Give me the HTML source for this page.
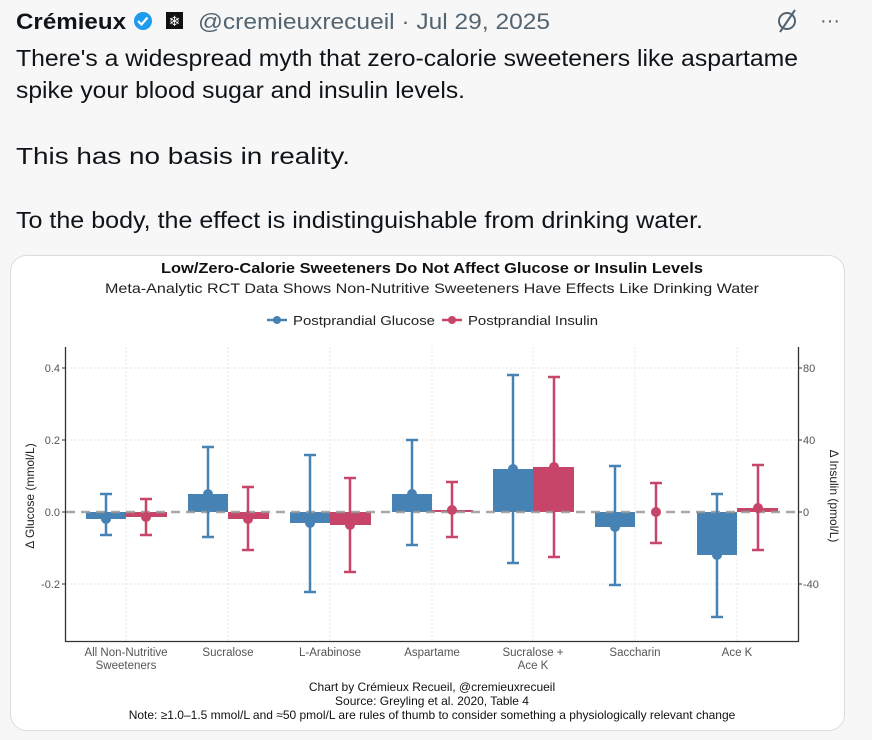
<!DOCTYPE html>
<html><head><meta charset="utf-8"><style>
html,body{margin:0;padding:0;background:#f7f7f7;}
body{width:872px;height:740px;overflow:hidden;position:relative;font-family:"Liberation Sans",sans-serif;}
svg{position:absolute;left:0;top:0}
</style></head><body>
<svg width="872" height="740" viewBox="0 0 872 740" xmlns="http://www.w3.org/2000/svg" font-family="Liberation Sans, sans-serif">
<rect width="872" height="740" fill="#f7f7f7"/>
<!-- header -->
<text x="16" y="29" font-size="22" font-weight="bold" fill="#0f1419" textLength="110" lengthAdjust="spacingAndGlyphs">Crémieux</text>
<circle cx="143" cy="21" r="9" fill="#1d9bf0"/>
<path d="M138 21l3.5 3.5 6-7" stroke="#fff" stroke-width="2.2" fill="none"/>
<rect x="166" y="12" width="17" height="17" fill="#111"/>
<text x="174.5" y="26" font-size="14" fill="#fff" text-anchor="middle">❄</text>
<text x="198" y="29" font-size="22" fill="#536471" textLength="352" lengthAdjust="spacingAndGlyphs">@cremieuxrecueil · Jul 29, 2025</text>
<circle cx="787" cy="21" r="8" fill="none" stroke="#536471" stroke-width="2"/>
<line x1="780" y1="32" x2="795" y2="10" stroke="#536471" stroke-width="2"/>
<text x="830" y="27" font-size="20" fill="#536471" text-anchor="middle">···</text>
<g font-size="23" fill="#0f1419">
<text x="16" y="66" textLength="782" lengthAdjust="spacingAndGlyphs">There's a widespread myth that zero-calorie sweeteners like aspartame</text>
<text x="16" y="98" textLength="449" lengthAdjust="spacingAndGlyphs">spike your blood sugar and insulin levels.</text>
<text x="16" y="164" textLength="334" lengthAdjust="spacingAndGlyphs">This has no basis in reality.</text>
<text x="16" y="228" textLength="687" lengthAdjust="spacingAndGlyphs">To the body, the effect is indistinguishable from drinking water.</text>
</g>
<!-- card -->
<rect x="10.5" y="255.5" width="834" height="475" rx="16" fill="#fff" stroke="#dcdcdc"/>
<text x="432" y="273" font-size="15" font-weight="bold" fill="#111" text-anchor="middle" textLength="542" lengthAdjust="spacingAndGlyphs">Low/Zero-Calorie Sweeteners Do Not Affect Glucose or Insulin Levels</text>
<text x="432" y="293" font-size="14" fill="#222" text-anchor="middle" textLength="654" lengthAdjust="spacingAndGlyphs">Meta-Analytic RCT Data Shows Non-Nutritive Sweeteners Have Effects Like Drinking Water</text>
<line x1="267" y1="320" x2="287" y2="320" stroke="#4682b4" stroke-width="2.5"/><circle cx="277" cy="320" r="4" fill="#4682b4"/>
<text x="293" y="325" font-size="13" fill="#222" textLength="142" lengthAdjust="spacingAndGlyphs">Postprandial Glucose</text>
<line x1="442" y1="320" x2="462" y2="320" stroke="#c8456a" stroke-width="2.5"/><circle cx="452" cy="320" r="4" fill="#c8456a"/>
<text x="468" y="325" font-size="13" fill="#222" textLength="130" lengthAdjust="spacingAndGlyphs">Postprandial Insulin</text>
<!-- grid -->
<g stroke="#e6e6e6" stroke-width="1" stroke-dasharray="2,2">
<line x1="66" y1="368" x2="797" y2="368"/><line x1="66" y1="440" x2="797" y2="440"/><line x1="66" y1="584" x2="797" y2="584"/>
<line x1="126" y1="347" x2="126" y2="641"/><line x1="228" y1="347" x2="228" y2="641"/><line x1="330" y1="347" x2="330" y2="641"/><line x1="432" y1="347" x2="432" y2="641"/><line x1="533" y1="347" x2="533" y2="641"/><line x1="635" y1="347" x2="635" y2="641"/><line x1="737" y1="347" x2="737" y2="641"/>
</g>
<!-- bars -->
<g fill="#4682b4">
<rect x="86" y="512" width="40" height="7"/>
<rect x="188" y="494" width="40" height="18"/>
<rect x="290" y="512" width="40" height="11"/>
<rect x="392" y="494" width="40" height="18"/>
<rect x="493" y="469" width="40" height="43"/>
<rect x="595" y="512" width="40" height="15"/>
<rect x="697" y="512" width="40" height="43"/>
</g>
<g fill="#c8456a">
<rect x="126" y="512" width="41" height="5"/>
<rect x="228" y="512" width="41" height="7"/>
<rect x="330" y="512" width="41" height="13"/>
<rect x="432" y="510" width="41" height="2"/>
<rect x="533" y="467" width="41" height="45"/>
<rect x="737" y="508" width="41" height="4"/>
</g>
<line x1="66" y1="512" x2="797" y2="512" stroke="#9a9a9a" stroke-width="2.5" stroke-dasharray="9,6" opacity="0.85"/>
<!-- error bars -->
<g stroke="#4682b4" stroke-width="2.5" fill="#4682b4">
<path d="M106 494V535M100 494H112M100 535H112"/><circle cx="106" cy="519" r="5" stroke="none"/>
<path d="M208 447V537M202 447H214M202 537H214"/><circle cx="208" cy="494" r="5" stroke="none"/>
<path d="M310 455V592M304 455H316M304 592H316"/><circle cx="310" cy="523" r="5" stroke="none"/>
<path d="M412 440V545M406 440H418M406 545H418"/><circle cx="412" cy="494" r="5" stroke="none"/>
<path d="M513 375V563M507 375H519M507 563H519"/><circle cx="513" cy="469" r="5" stroke="none"/>
<path d="M615 466V585M609 466H621M609 585H621"/><circle cx="615" cy="527" r="5" stroke="none"/>
<path d="M717 494V617M711 494H723M711 617H723"/><circle cx="717" cy="555" r="5" stroke="none"/>
</g>
<g stroke="#c8456a" stroke-width="2.5" fill="#c8456a">
<path d="M146 499V535M140 499H152M140 535H152"/><circle cx="146" cy="517" r="5" stroke="none"/>
<path d="M248 487V550M242 487H254M242 550H254"/><circle cx="248" cy="519" r="5" stroke="none"/>
<path d="M350 478V572M344 478H356M344 572H356"/><circle cx="350" cy="525" r="5" stroke="none"/>
<path d="M452 482V537M446 482H458M446 537H458"/><circle cx="452" cy="510" r="5" stroke="none"/>
<path d="M554 377V557M548 377H560M548 557H560"/><circle cx="554" cy="467" r="5" stroke="none"/>
<path d="M656 483V543M650 483H662M650 543H662"/><circle cx="656" cy="512" r="5" stroke="none"/>
<path d="M758 465V550M752 465H764M752 550H764"/><circle cx="758" cy="508" r="5" stroke="none"/>
</g>
<!-- axes -->
<path d="M65.5 347V641.5H798.5V347" fill="none" stroke="#333" stroke-width="1.3"/>
<g stroke="#333"><line x1="62" y1="368" x2="65" y2="368"/><line x1="62" y1="440" x2="65" y2="440"/><line x1="62" y1="512" x2="65" y2="512"/><line x1="62" y1="584" x2="65" y2="584"/>
<line x1="798" y1="368" x2="802" y2="368"/><line x1="798" y1="440" x2="802" y2="440"/><line x1="798" y1="512" x2="802" y2="512"/><line x1="798" y1="584" x2="802" y2="584"/></g>
<g font-size="11" fill="#555" text-anchor="end">
<text x="60" y="372">0.4</text><text x="60" y="444">0.2</text><text x="60" y="516">0.0</text><text x="60" y="588">-0.2</text></g>
<g font-size="11" fill="#555">
<text x="803" y="372">80</text><text x="803" y="444">40</text><text x="803" y="516">0</text><text x="803" y="588">-40</text></g>
<text transform="translate(34,496) rotate(-90)" font-size="12" fill="#222" text-anchor="middle">Δ Glucose (mmol/L)</text>
<text transform="translate(830,496) rotate(90)" font-size="12" fill="#222" text-anchor="middle">Δ Insulin (pmol/L)</text>
<g font-size="11.5" fill="#555" text-anchor="middle">
<text x="126" y="656">All Non-Nutritive</text><text x="126" y="669">Sweeteners</text>
<text x="228" y="656">Sucralose</text><text x="330" y="656">L-Arabinose</text><text x="432" y="656">Aspartame</text>
<text x="533" y="656">Sucralose +</text><text x="533" y="669">Ace K</text>
<text x="635" y="656">Saccharin</text><text x="737" y="656">Ace K</text></g>
<g font-size="12" fill="#111" text-anchor="middle">
<text x="432" y="691">Chart by Crémieux Recueil, @cremieuxrecueil</text>
<text x="432" y="705">Source: Greyling et al. 2020, Table 4</text>
<text x="432" y="719">Note: ≥1.0–1.5 mmol/L and ≈50 pmol/L are rules of thumb to consider something a physiologically relevant change</text></g>
</svg>
</body></html>
